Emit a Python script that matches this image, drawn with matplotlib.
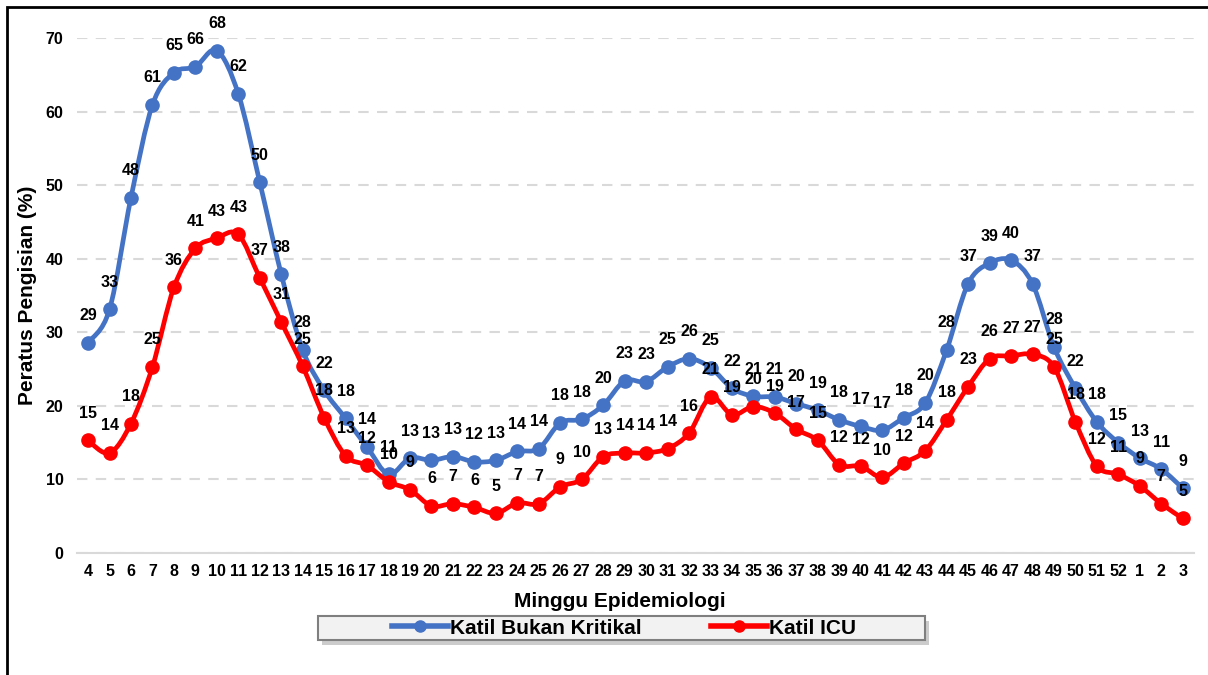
import numpy as np
import matplotlib
matplotlib.use("Agg")
import matplotlib.pyplot as plt
from matplotlib.path import Path
from matplotlib.patches import PathPatch, Rectangle
from matplotlib.lines import Line2D

plt.rcParams['font.family'] = ['Liberation Sans', 'DejaVu Sans']
plt.rcParams['font.weight'] = 'bold'

# minggu epidemiologi (4..52, kemudian 1..3 tahun berikutnya)
weeks = [str(w) for w in range(4, 53)] + ['1', '2', '3']

bukan_kritikal = [28.6, 33.1, 48.3, 60.9, 65.3, 66.1, 68.3, 62.4, 50.4, 37.9,
                  27.6, 22.1, 18.3, 14.4, 10.7, 12.9, 12.6, 13.1, 12.4, 12.6,
                  13.8, 14.2, 17.7, 18.2, 20.1, 23.4, 23.3, 25.3, 26.4, 25.2,
                  22.4, 21.3, 21.2, 20.3, 19.4, 18.1, 17.2, 16.7, 18.4, 20.4,
                  27.6, 36.6, 39.4, 39.8, 36.6, 28.0, 22.4, 17.8, 15.0, 12.9,
                  11.4, 8.8]
icu = [15.3, 13.6, 17.6, 25.3, 36.1, 41.4, 42.8, 43.3, 37.4, 31.4,
       25.4, 18.4, 13.2, 11.9, 9.7, 8.6, 6.4, 6.7, 6.2, 5.4,
       6.8, 6.7, 9.0, 10.0, 13.1, 13.6, 13.6, 14.2, 16.3, 21.2,
       18.8, 19.9, 19.0, 16.8, 15.3, 12.0, 11.8, 10.3, 12.2, 13.9,
       18.1, 22.6, 26.4, 26.8, 27.0, 25.3, 17.8, 11.8, 10.7, 9.1,
       6.7, 4.7]

BLUE = '#4472C4'
RED = '#FF0000'


def smooth_path(x, y):
    # lengkung Bezier melalui setiap titik (seperti garis licin Excel)
    pts = np.column_stack([x, y]).astype(float)
    n = len(pts)
    verts = [pts[0]]
    codes = [Path.MOVETO]
    for i in range(n - 1):
        p0 = pts[i - 1] if i > 0 else pts[i]
        p1 = pts[i]
        p2 = pts[i + 1]
        p3 = pts[i + 2] if i + 2 < n else pts[i + 1]
        verts += [p1 + (p2 - p0) / 6, p2 - (p3 - p1) / 6, p2]
        codes += [Path.CURVE4] * 3
    return Path(verts, codes)


fig = plt.figure(figsize=(12.08, 6.75), dpi=100)
ax = fig.add_axes([0.064, 0.1807, 0.924, 0.763])

x = np.arange(len(weeks))

for vals, col, z in [(bukan_kritikal, BLUE, 3), (icu, RED, 4)]:
    ax.add_patch(PathPatch(smooth_path(x, vals), fill=False, edgecolor=col,
                           lw=3.4, capstyle='round', joinstyle='round', zorder=z))
    ax.plot(x, vals, 'o', color=col, ms=9.5, zorder=z + 0.5)

for vals in [bukan_kritikal, icu]:
    for i, v in enumerate(vals):
        ax.annotate(f"{v:.0f}", (i, v), xytext=(0, 19.5), textcoords='offset points',
                    ha='center', va='center', fontsize=11.5, fontweight='bold',
                    color='black', zorder=10, annotation_clip=False)

ax.set_xlim(-0.5, len(weeks) - 0.5)
ax.set_ylim(0, 70)
ax.set_xticks(x)
ax.set_xticklabels(weeks)
ax.set_yticks(range(0, 71, 10))
ax.tick_params(axis='both', length=0, labelsize=11.5)
ax.tick_params(axis='x', pad=8)
ax.tick_params(axis='y', pad=10)

ax.grid(axis='y', color='#d9d9d9', linestyle=(0, (5, 4)), lw=1.5)
ax.set_axisbelow(True)
for s in ['left', 'right', 'top']:
    ax.spines[s].set_visible(False)
ax.spines['bottom'].set_color('#d9d9d9')
ax.spines['bottom'].set_linewidth(1.5)

ax.set_xlabel('Minggu Epidemiologi', fontsize=15, fontweight='bold')
ax.xaxis.set_label_coords(0.486, -0.075)
ax.set_ylabel('Peratus Pengisian (%)', fontsize=15, fontweight='bold')
ax.yaxis.set_label_coords(-0.036, 0.5)

# kotak legenda dengan bayang
lx, ly, lw_, lh = 318 / 1208, 1 - 640 / 675, 607 / 1208, 24 / 675
fig.patches.append(Rectangle((lx + 4 / 1208, ly - 5 / 675), lw_, lh, transform=fig.transFigure,
                             facecolor='#9a9a9a', edgecolor='none', alpha=0.5, zorder=1))
fig.patches.append(Rectangle((lx, ly), lw_, lh, transform=fig.transFigure,
                             facecolor='#f2f2f2', edgecolor='#7f7f7f', lw=1.5, zorder=2))

handles = [Line2D([], [], color=BLUE, lw=4, marker='o', ms=8),
           Line2D([], [], color=RED, lw=4, marker='o', ms=8)]
leg = fig.legend(handles, ['Katil Bukan Kritikal', 'Katil ICU'], loc='center',
                 bbox_to_anchor=(624 / 1208, 1 - 628 / 675), ncol=2, frameon=False,
                 fontsize=15, handlelength=2.7, handletextpad=0.12, columnspacing=3.3)
leg.set_zorder(5)

# bingkai luar carta
fig.patches.append(Rectangle((7 / 1208, -0.1), 1.2, 1.1 - 7 / 675, transform=fig.transFigure,
                             fill=False, edgecolor='black', lw=2, zorder=0))

fig.savefig('out.png', dpi=100)
